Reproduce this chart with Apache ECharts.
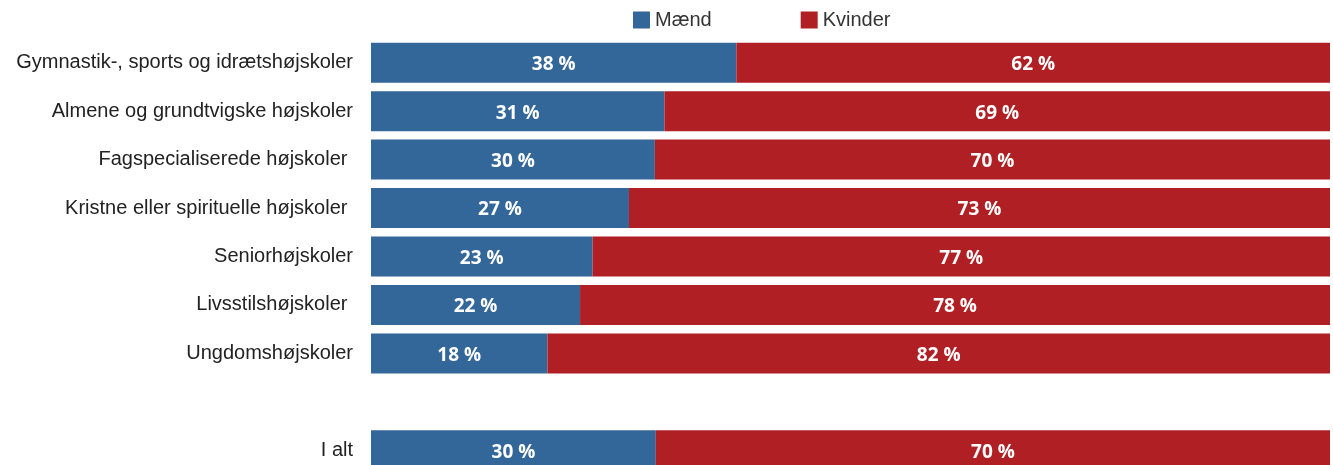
<!DOCTYPE html>
<html>
<head>
<meta charset="utf-8">
<script src="https://cdn.jsdelivr.net/npm/echarts@6/dist/echarts.min.js"></script>
<style>
  html, body { margin: 0; padding: 0; background: #fff; }
  #container { width: 1333px; height: 465px; }
</style>
</head>
<body>
<div id="container"></div>
<script>
var categories = [
    'Gymnastik-, sports og idrætshøjskoler',
    'Almene og grundtvigske højskoler',
    'Fagspecialiserede højskoler ',
    'Kristne eller spirituelle højskoler ',
    'Seniorhøjskoler',
    'Livsstilshøjskoler ',
    'Ungdomshøjskoler',
    '',
    'I alt'
];
var maend = [38.1, 30.6, 29.6, 26.9, 23.1, 21.8, 18.4, '-', 29.7];
var kvinder = [61.9, 69.4, 70.4, 73.1, 76.9, 78.2, 81.6, '-', 70.3];

var dom = document.getElementById('container');
var myChart = echarts.init(dom);

var barLabel = {
    show: true,
    position: 'inside',
    offset: [0, 2],
    color: '#fff',
    fontFamily: 'Open Sans',
    fontWeight: 'bold',
    fontSize: 19,
    formatter: function (p) { return Math.round(p.value) + ' %'; }
};

option = {
    animation: false,
    legend: {
        left: 628,
        top: 5,
        itemWidth: 17,
        itemHeight: 17,
        itemGap: 89,
        icon: 'rect',
        textStyle: { fontFamily: 'Liberation Sans', fontSize: 20, color: '#333' },
        data: ['Mænd', 'Kvinder']
    },
    grid: {
        left: 371, right: 3, top: 38.5, height: 436,
        containLabel: false,
        outerBoundsMode: 'none'
    },
    xAxis: {
        type: 'value',
        min: 0,
        max: 100,
        show: false
    },
    yAxis: {
        type: 'category',
        inverse: true,
        data: categories,
        axisLine: { show: false },
        axisTick: { show: false },
        axisLabel: {
            margin: 18,
            fontFamily: 'Liberation Sans',
            fontSize: 20,
            color: '#222'
        }
    },
    series: [
        {
            name: 'Mænd',
            type: 'bar',
            stack: 'total',
            barWidth: 40,
            data: maend,
            itemStyle: { color: '#336699' },
            label: barLabel
        },
        {
            name: 'Kvinder',
            type: 'bar',
            stack: 'total',
            barWidth: 40,
            data: kvinder,
            itemStyle: { color: '#b01f24' },
            label: barLabel
        }
    ]
};
myChart.setOption(option);

window.addEventListener('resize', function () {
    myChart.resize();
});
</script>
</body>
</html>
